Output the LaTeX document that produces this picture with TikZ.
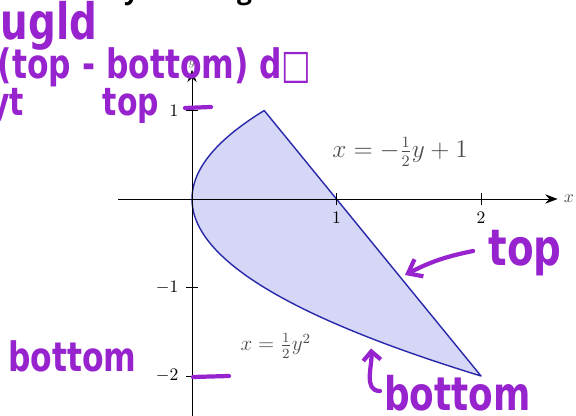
\documentclass[tikz,border=0pt]{standalone}
\usepackage{amsmath,amssymb}
\usepackage{fontspec}
\newfontfamily\handfont{DejaVu Sans}
\newfontfamily\headfont{Open Sans}
\usetikzlibrary{arrows.meta}
\usetikzlibrary{calc}

\definecolor{ink}{RGB}{150,35,205}
\definecolor{edgeblue}{RGB}{40,40,170}
\definecolor{shadeblue}{RGB}{214,214,246}

% narrow, tall letters for the pen notes
\newcommand{\scrawl}[1]{\scalebox{0.85}[1.1]{#1}}

\tikzset{
  hand/.style={text=ink, inner sep=0pt, font=\handfont\bfseries\fontsize{#1}{#1}\selectfont},
  hand/.default=20,
  inkline/.style={draw=ink, line width=2.4pt, line cap=round},
  ticklbl/.style={font=\sffamily, inner sep=1pt},
  curvelbl/.style={text=black!70, inner sep=1pt}
}

\begin{document}
\begin{tikzpicture}
        \useasboundingbox (0,0) rectangle (11.52,8.32);
        \clip (0,0) rectangle (11.52,8.32);

        % cut-off heading
        \node[anchor=base west, font=\headfont\bfseries\fontsize{15}{15}\selectfont, inner sep=0pt]
        (heading) at (1.5,8.33) {a. by treating the boundaries as functions};

        \begin{scope}[shift={(3.84,4.34)}, x=2.89cm, y=1.77cm]
        % region
        \draw[edgeblue, fill=shadeblue, line width=0.8pt, line join=round]
        plot[domain=-2:1, samples=60, smooth] ({0.5*\x*\x},\x) -- cycle;

        % axes
        \draw[-{Stealth[length=7pt]}] (-0.51,0) -- (2.53,0) coordinate (xend);
        \draw[-{Stealth[length=7pt]}] (0,-2.5) -- (0,1.46) coordinate (yend);
        \node[right, text=black!70] (xlbl) at (xend) {$x$};
        \node[above, font=\scriptsize, text=black!60, inner sep=1pt] (ylbl) at (yend) {$y$};

        \foreach \t in {1,2}
          {\draw (\t,-0.07) -- (\t,0.07);
           \node[ticklbl, anchor=north] (xt\t) at (\t,-0.12) {$\t$};}
        \foreach \t/\n in {1/a,-1/b,-2/c}
          {\draw (-0.04,\t) -- (0.04,\t);
           \node[ticklbl, anchor=east] (yt\n) at (-0.08,\t) {$\t$};}

        \node[curvelbl, font=\fontsize{13.5}{14}\selectfont] (upper) at (1.44,0.53) {$x=-\tfrac{1}{2}y+1$};
        \node[curvelbl, font=\fontsize{11.5}{12}\selectfont] (lower) at (0.58,-1.66) {$x=\tfrac{1}{2}y^{2}$};
        \end{scope}

        % handwriting
        \node[hand=26] (ugld) at (0.98,7.8) {\scrawl{ugld}};
        \node[hand=21, anchor=west] (integrand) at (-0.05,6.98) {\scrawl{(top - bottom) d□}};
        \node[hand=20, anchor=west] (yt) at (-0.2,6.2) {\scrawl{yt}};
        \node[hand=20] (topL) at (2.62,6.2) {\scrawl{top}};
        \draw[inkline] (3.70,6.16) -- (4.22,6.18);
        \node[hand=21] (bottomL) at (1.45,1.2) {\scrawl{bottom}};
        \draw[inkline] (3.86,0.78) -- (4.58,0.80);

        \node[hand=26] (topR) at (10.5,3.25) {\scrawl{top}};
        \coordinate (topTip) at (8.10,2.82);
        \draw[inkline, -{Straight Barb[length=7pt, width=11pt]}]
        ($(topR.west)+(-0.3,0.05)$) to[bend right=8] (topTip);

        \node[hand=24] (bottomR) at (9.15,0.45) {\scrawl{bottom}};
        \coordinate (botTip) at (7.42,1.35);
        \draw[inkline, -{Straight Barb[length=5pt, width=10pt]}]
        (7.60,0.50) to[out=180, in=-85] (botTip);
\end{tikzpicture}
\end{document}
